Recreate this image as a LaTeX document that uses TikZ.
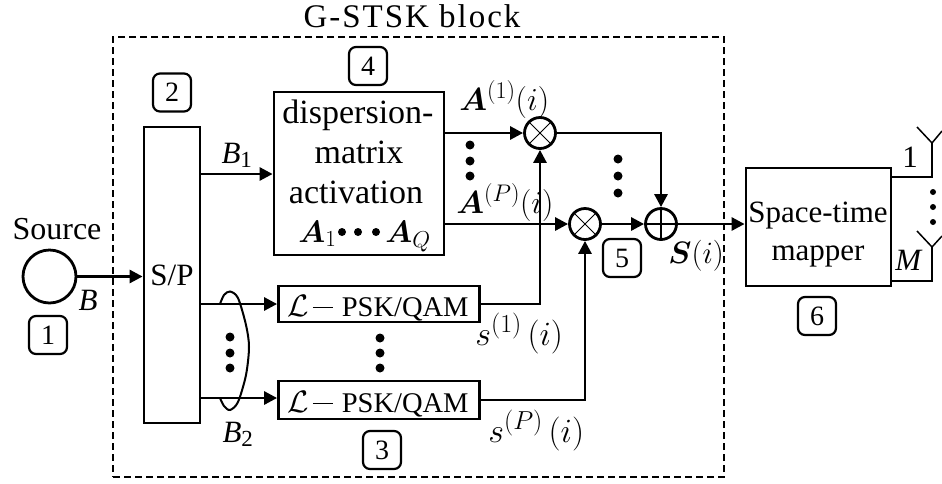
\documentclass[tikz,border=0pt]{standalone}
\usepackage{fix-cm}
\usepackage{amsmath,amssymb}
\usepackage{bm}
\usepackage{fontspec}
\setmainfont{Liberation Serif}
\usepackage{tikz}
\usetikzlibrary{shapes,arrows}
\usetikzlibrary{positioning}
\usetikzlibrary{arrows.meta}
\tikzset{>={Triangle[length=13pt,width=13pt]}}
\DeclareMathSizes{31}{31}{23}{17}
\DeclareMathSizes{32}{32}{24}{18}
\DeclareMathSizes{34}{34}{26}{19}
\newcommand{\bigfont}{\fontsize{31}{37}\selectfont}
\newcommand{\arrfont}{\fontsize{32}{37}\selectfont}
\newcommand{\boxfont}{\fontsize{34}{40}\selectfont}
\newcommand{\midfont}{\fontsize{28}{32}\selectfont}
\newcommand{\pskfont}{\fontsize{28.5}{32}\selectfont}
\newcommand{\psktext}{\bigfont$\mathcal{L}$\hspace{4pt}\rule[8pt]{20pt}{1pt}\hspace{9pt}\pskfont PSK/QAM}

\begin{document}
\begin{tikzpicture}
	[x=1pt,y=-1pt,line width=2.8pt,inner sep=0pt,
	block/.style={draw,rectangle,align=center,font=\bigfont},
	tag/.style={draw,rectangle,rounded corners=7pt,line width=2.2pt,minimum size=38pt,font=\midfont},
	mult/.style={draw,circle,minimum size=31pt},
	label/.style={font=\bigfont,anchor=base},
	mathlabel/.style={font=\boxfont,anchor=base west},
	dotmark/.style={circle,fill,minimum size=9pt}]
	\useasboundingbox (0,0) rectangle (942,483);
	% outer block
	\node [draw,line width=2.2pt,dash pattern=on 7pt off 4pt,minimum width=611pt,minimum height=440pt] (stsk) at (418.5,257) {};
	\node [label,font=\fontsize{33}{37}\selectfont\addfontfeature{LetterSpace=6}] (stsklabel) at (412,27) {G-STSK block};
	% source and S/P
	\node [draw,circle,minimum size=53pt] (source) at (49.5,276.5) {};
	\node [label,font=\fontsize{32}{37}\selectfont] (sourcelabel) at (57,239) {Source};
	\node [label] (blabel) at (88,310) {\textit{B}};
	\node [tag] (tagA) at (48,335) {1};
	\node [block,minimum width=56pt,minimum height=296pt] (sp) at (172,275) {S/P};
	\node [tag] (tagB) [above=13pt of sp] {2};
	% dispersion matrices
	\node [block,minimum width=170pt,minimum height=163pt] (disp) at (359,173.5) {};
	\node [label,font=\boxfont] (dispA) at (358,123) {dispersion-};
	\node [label,font=\boxfont] (dispB) at (359,163) {matrix};
	\node [label,font=\boxfont] (dispC) at (356,203) {activation};
	\node [mathlabel,font=\bigfont] (dispD) at (297,242) {$\bm{A}_1$};
	\node [mathlabel,font=\bigfont] (dispE) at (384,242) {$\bm{A}_Q$};
	\foreach \x in {342,358,376} \node [dotmark,minimum size=8pt] (dotdisp\x) at (\x,232) {};
	\node [tag] (tagD) at (368,66) {4};
	% modulators
	\node [draw,minimum width=201pt,minimum height=36pt] (pskA) at (379,304) {};
	\node [draw,minimum width=201pt,minimum height=38pt] (pskB) at (379,400) {};
	\node [label,font=\pskfont] (pskAl) at (378,316) {\psktext};
	\node [label,font=\pskfont] (pskBl) at (378,412) {\psktext};
	\node [tag] (tagC) at (382,450) {3};
	% multipliers and adder
	\node [mult] (multA) at (540,133) {};
	\node [mult] (multB) at (585,224) {};
	\node [mult] (adder) at (661,224) {};
	\draw [line width=1pt] (multA.45) -- (multA.225) (multA.135) -- (multA.315);
	\draw [line width=1pt] (multB.45) -- (multB.225) (multB.135) -- (multB.315);
	\draw (adder.north) -- (adder.south) (adder.west) -- (adder.east);
	\node [tag] (tagE) at (622,258) {5};
	% mapper
	\node [block,minimum width=145pt,minimum height=118pt] (mapper) at (818.5,227) {};
	\node [label] (mapperA) at (818,222) {Space-time};
	\node [label] (mapperB) at (818,260) {mapper};
	\node [tag] (tagF) at (817,316) {6};
	% labels
	\node [label] (bonelabel) at (237,163) {\textit{B}$_{\text{1}}$};
	\node [label] (btwolabel) at (238,442) {\textit{B}$_{\text{2}}$};
	\node [mathlabel,font=\arrfont] (aonelabel) at (458,110) {$\bm{A}^{(1)}(i)$};
	\node [mathlabel,font=\arrfont] (aplabel) at (455,213) {$\bm{A}^{(P)}(i)$};
	\node [mathlabel] (sonelabel) at (474,345) {$s^{(1)}\,(i)$};
	\node [mathlabel] (splabel) at (487,442) {$s^{(P)}\,(i)$};
	\node [mathlabel,font=\bigfont] (slabel) at (667,263) {$\bm{S}(i)$};
	\node [label] (antonelabel) at (910,167) {1};
	\node [label] (antmlabel) at (909,270) {\textit{M}};
	% dots
	\foreach \y in {337,353,368} \node [dotmark] (dotsp\y) at (230,\y) {};
	\foreach \y in {338,353,368} \node [dotmark] (dotpsk\y) at (380,\y) {};
	\foreach \y in {145,161,176} \node [dotmark] (dota\y) at (470,\y) {};
	\foreach \y in {159,176,193} \node [dotmark] (dotm\y) at (618,\y) {};
	\foreach \y in {192,207,222} \node [dotmark,minimum size=6pt] (dotant\y) at (933,\y) {};
	% B_2 bundle
	\draw [line width=2pt] plot [smooth] coordinates {(220,304) (224,295) (230,291.5) (238,298) (246,325) (249,347) (246,375) (238,402) (230,410) (224,406) (220,398)};
	% connectors
	\draw[->] (source) -- (sp.west |- source);
	\coordinate (spa) at (sp.east |- 0,174);
	\coordinate (spb) at (sp.east |- pskA);
	\coordinate (spc) at (sp.east |- 0,398);
	\draw[->] (spa) -- (disp.west |- spa);
	\draw[->] (spb) -- (pskA);
	\draw[->] (spc) -- (pskB.west |- spc);
	\draw[->] (disp.east |- multA) -- (multA);
	\draw[->] (disp.east |- multB) -- (multB);
	\draw[->] (pskA) -| (multA);
	\draw[->] (pskB) -| (multB);
	\draw[->] (multA) -| (adder);
	\draw[->] (multB) -- (adder);
	\draw[->] (adder) -- (mapper.west |- adder);
	% antennas
	\coordinate (antA) at (932,143);
	\coordinate (antB) at (932,247);
	\coordinate (antAl) at (917,127);
	\coordinate (antAr) at (942,131);
	\coordinate (antBl) at (917,231);
	\coordinate (antBr) at (942,236);
	\coordinate (mapA) at (mapper.east |- 0,177);
	\coordinate (mapB) at (mapper.east |- 0,281);
	\draw [line width=2.2pt] (mapA) -| (antA);
	\draw [line width=2.2pt] (mapB) -| (antB);
	\draw [line width=1.5pt] (antAl) -- (antA) -- (antAr);
	\draw [line width=1.5pt] (antBl) -- (antB) -- (antBr);
\end{tikzpicture}
\end{document}
